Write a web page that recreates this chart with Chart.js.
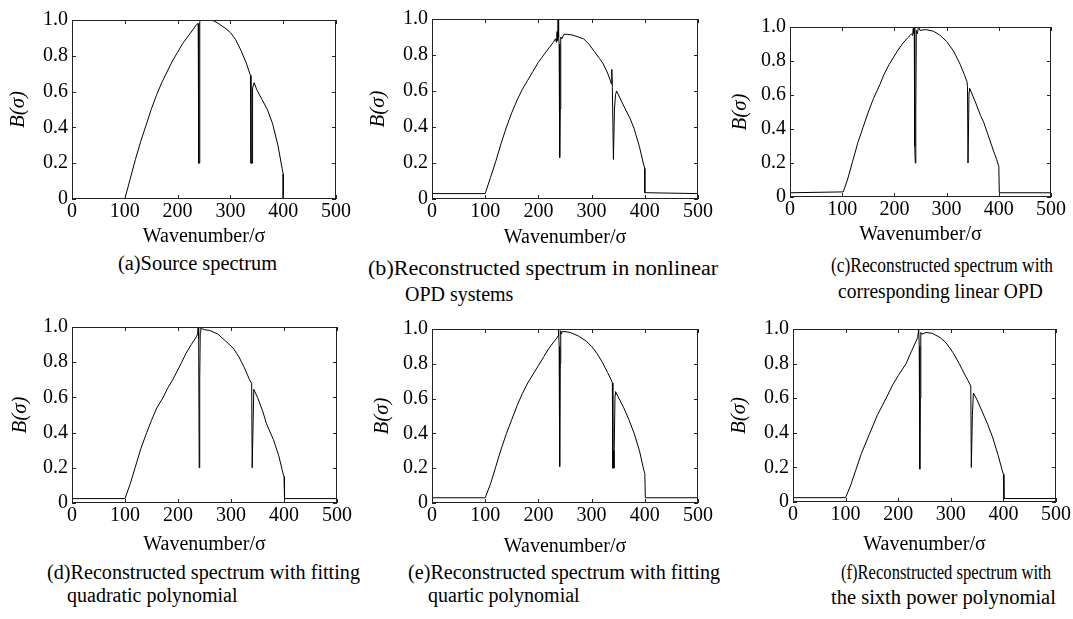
<!DOCTYPE html>
<html>
<head>
<meta charset="utf-8">
<script src="https://cdn.jsdelivr.net/npm/chart.js@4.4.1/dist/chart.umd.min.js"></script>
<style>
  html, body { margin: 0; padding: 0; background: #fff; }
  body { width: 1073px; height: 619px; position: relative; overflow: hidden;
         font-family: 'Liberation Serif', 'Times New Roman', serif; }
  canvas { position: absolute; }
  .cap { position: absolute; font-size: 20px; line-height: 24px; white-space: nowrap;
         color: #000; transform-origin: 0 50%; }
</style>
</head>
<body>
<script>
// tick values shared by all six panels
const xTicks = [0, 100, 200, 300, 400, 500];
const yTicks = [0, 0.2, 0.4, 0.6, 0.8, 1.0];

// (a) source spectrum
const sigmaA = [0, 100, 110, 120, 130, 140, 150, 160, 170, 180, 190, 200, 210, 220, 230, 236, 239, 240, 241, 242,
  244, 255, 265, 275, 290, 300, 310, 320, 330, 338, 339, 341, 342, 345, 350, 360, 370, 380, 390, 398, 400, 400, 500];
const specA = [0, 0, 0.11, 0.22, 0.32, 0.41, 0.5, 0.58, 0.65, 0.71, 0.77, 0.82, 0.87, 0.91, 0.95, 0.975, 0.98, 0.2, 0.2, 0.99,
  1.0, 1.0, 1.0, 0.985, 0.955, 0.93, 0.89, 0.83, 0.76, 0.69, 0.2, 0.2, 0.62, 0.65, 0.61, 0.555, 0.5, 0.42, 0.3, 0.17, 0.14, 0, 0];

// (b) nonlinear OPD
const sigmaB = [0, 100, 110, 120, 130, 140, 150, 160, 170, 180, 190, 200, 210, 220, 228, 232, 234, 235, 236, 237,
  238, 239, 240, 241, 242, 244, 248, 255, 265, 275, 285, 295, 305, 315, 322, 330, 335, 337, 338, 339,
  341, 343, 345, 347, 355, 365, 372, 380, 390, 397, 400, 400, 500];
const specB = [0.03, 0.03, 0.12, 0.21, 0.31, 0.4, 0.48, 0.55, 0.61, 0.66, 0.71, 0.76, 0.8, 0.84, 0.87, 0.89, 0.87, 0.93, 0.88, 1.0,
  0.9, 0.86, 0.23, 0.5, 0.9, 0.89, 0.915, 0.915, 0.91, 0.9, 0.89, 0.86, 0.82, 0.78, 0.75, 0.7, 0.66, 0.64, 0.72, 0.62,
  0.22, 0.5, 0.58, 0.6, 0.55, 0.49, 0.45, 0.39, 0.29, 0.2, 0.17, 0.035, 0.03];

// (c) corresponding linear OPD
const sigmaC = [0, 102, 110, 120, 130, 140, 150, 160, 172, 180, 190, 205, 215, 225, 230, 233, 235, 236, 237, 238,
  239, 240, 241, 242, 244, 246, 249, 260, 275, 288, 300, 313, 326, 334, 339, 340, 341, 342, 343, 344,
  355, 365, 371, 380, 390, 396, 400, 401, 500];
const specC = [0.025, 0.03, 0.1, 0.21, 0.32, 0.41, 0.5, 0.58, 0.66, 0.72, 0.78, 0.855, 0.9, 0.935, 0.95, 0.96, 0.95, 0.99, 0.96, 1.0,
  0.3, 0.2, 0.5, 0.98, 0.96, 1.0, 0.98, 0.985, 0.975, 0.95, 0.915, 0.86, 0.78, 0.72, 0.68, 0.65, 0.2, 0.2, 0.62, 0.64,
  0.56, 0.48, 0.44, 0.36, 0.27, 0.22, 0.18, 0.025, 0.025];

// (d) quadratic fit
const sigmaD = [0, 100, 110, 119, 130, 141, 150, 160, 172, 180, 190, 207, 215, 225, 235, 237, 238, 239, 240, 241,
  242, 243, 245, 250, 260, 275, 290, 304, 315, 325, 335, 339, 340, 341, 343, 350, 360, 367, 380, 390,
  398, 400, 401, 500];
const specD = [0.025, 0.025, 0.11, 0.2, 0.31, 0.4, 0.47, 0.54, 0.6, 0.65, 0.7, 0.8, 0.85, 0.9, 0.946, 0.96, 1.0, 0.93, 0.2, 0.7,
  0.97, 1.0, 0.99, 0.985, 0.98, 0.96, 0.92, 0.88, 0.83, 0.77, 0.7, 0.68, 0.2, 0.2, 0.646, 0.6, 0.52, 0.45, 0.36, 0.27,
  0.17, 0.15, 0.025, 0.025];

// (e) quartic fit
const sigmaE = [0, 100, 110, 120, 130, 140, 150, 160, 170, 180, 190, 200, 210, 220, 230, 235, 237, 238, 239, 240,
  241, 242, 243, 245, 250, 260, 275, 290, 300, 310, 320, 330, 338, 339, 340, 341, 342, 344, 345, 350,
  360, 370, 380, 390, 398, 400, 401, 500];
const specE = [0.03, 0.03, 0.11, 0.21, 0.31, 0.4, 0.48, 0.56, 0.63, 0.69, 0.74, 0.79, 0.84, 0.89, 0.93, 0.95, 0.96, 1.0, 0.9, 0.21,
  0.8, 0.99, 0.97, 0.985, 0.985, 0.98, 0.96, 0.93, 0.9, 0.86, 0.81, 0.75, 0.7, 0.69, 0.2, 0.3, 0.2, 0.62, 0.64, 0.61,
  0.55, 0.48, 0.4, 0.3, 0.19, 0.17, 0.03, 0.03];

// (f) sixth power fit
const sigmaF = [0, 100, 110, 120, 130, 145, 160, 177, 190, 200, 215, 225, 234, 237, 239, 240, 241, 242, 243, 245,
  253, 265, 280, 291, 305, 316, 326, 333, 338, 339, 340, 341, 343, 350, 360, 370, 380, 390, 398, 400,
  401, 500];
const specF = [0.025, 0.025, 0.1, 0.19, 0.28, 0.39, 0.5, 0.6, 0.68, 0.73, 0.8, 0.87, 0.93, 0.95, 1.0, 0.9, 0.19, 0.6, 0.98, 0.97,
  0.98, 0.975, 0.95, 0.92, 0.86, 0.8, 0.74, 0.7, 0.67, 0.2, 0.2, 0.5, 0.63, 0.59, 0.52, 0.45, 0.37, 0.27, 0.18, 0.16,
  0.02, 0.02];

const captionA = ['(a)Source spectrum'];
const captionB = ['(b)Reconstructed spectrum in nonlinear', 'OPD systems'];
const captionC = ['(c)Reconstructed spectrum with', 'corresponding linear OPD'];
const captionD = ['(d)Reconstructed spectrum with fitting', 'quadratic polynomial'];
const captionE = ['(e)Reconstructed spectrum with fitting', 'quartic polynomial'];
const captionF = ['(f)Reconstructed spectrum with', 'the sixth power polynomial'];

// layout: plot box [left, top, right, bottom], y-title distance, x-title centre, caption lines [x, y, width]
const panels = [
  { sigma: sigmaA, spec: specA, cap: captionA, plot: [72, 18, 336, 199], yGap: 54, xTitleY: 237,
    capPos: [[118, 263, 159]] },
  { sigma: sigmaB, spec: specB, cap: captionB, plot: [432, 17, 698, 199], yGap: 54, xTitleY: 238,
    capPos: [[368, 268, 350], [405, 294, 0]] },
  { sigma: sigmaC, spec: specC, cap: captionC, plot: [790, 25, 1051, 197], yGap: 50, xTitleY: 235,
    capPos: [[831, 265, 222], [838, 291, 205]] },
  { sigma: sigmaD, spec: specD, cap: captionD, plot: [72, 325, 337, 503], yGap: 52, xTitleY: 545,
    capPos: [[47, 572, 313], [67, 595, 0]] },
  { sigma: sigmaE, spec: specE, cap: captionE, plot: [432, 327, 698, 503], yGap: 50, xTitleY: 547,
    capPos: [[408, 572, 312], [428, 595, 0]] },
  { sigma: sigmaF, spec: specF, cap: captionF, plot: [793, 327, 1056, 502], yGap: 54, xTitleY: 545,
    capPos: [[841, 572, 210], [831, 597, 225]] }
];

const SERIF = "'Liberation Serif', 'Times New Roman', serif";
const PAD_TOP = 14, PAD_RIGHT = 18;

// MATLAB style box with inward ticks on all four sides
const boxTicks = {
  id: 'boxTicks',
  afterDatasetsDraw(chart) {
    const { ctx, chartArea: a, scales: { x, y } } = chart;
    ctx.save();
    ctx.strokeStyle = '#222';
    ctx.lineWidth = 1;
    ctx.strokeRect(a.left + 0.5, a.top + 0.5, a.right - a.left - 1, a.bottom - a.top - 1);
    ctx.beginPath();
    xTicks.forEach(v => {
      const px = Math.round(x.getPixelForValue(v)) + 0.5;
      ctx.moveTo(px, a.bottom); ctx.lineTo(px, a.bottom - 4);
      ctx.moveTo(px, a.top); ctx.lineTo(px, a.top + 4);
    });
    yTicks.forEach(v => {
      const py = Math.round(y.getPixelForValue(v)) + 0.5;
      ctx.moveTo(a.left, py); ctx.lineTo(a.left + 4, py);
      ctx.moveTo(a.right, py); ctx.lineTo(a.right - 4, py);
    });
    ctx.stroke();
    ctx.restore();
  }
};

panels.forEach(p => {
  const [l, t, r, b] = p.plot;
  const yWidth = p.yGap + 12;
  const xHeight = p.xTitleY + 12 - b;
  const canvas = document.createElement('canvas');
  canvas.width = (r - l) + yWidth + PAD_RIGHT;
  canvas.height = (b - t) + PAD_TOP + xHeight;
  canvas.style.left = (l - yWidth) + 'px';
  canvas.style.top = (t - PAD_TOP) + 'px';
  document.body.appendChild(canvas);

  new Chart(canvas.getContext('2d'), {
    type: 'line',
    data: {
      datasets: [{
        data: p.sigma.map((s, i) => ({ x: s, y: p.spec[i] })),
        borderColor: '#000',
        borderWidth: 1,
        pointRadius: 0,
        tension: 0,
        fill: false
      }]
    },
    options: {
      responsive: false,
      animation: false,
      events: [],
      layout: { padding: { top: PAD_TOP, right: PAD_RIGHT, left: 0, bottom: 0 } },
      plugins: { legend: { display: false }, tooltip: { enabled: false } },
      scales: {
        x: {
          type: 'linear', min: 0, max: 500,
          afterBuildTicks: s => { s.ticks = xTicks.map(v => ({ value: v })); },
          afterFit: s => { s.height = xHeight; },
          grid: { display: false, drawTicks: false },
          border: { display: false },
          ticks: { color: '#000', font: { family: SERIF, size: 20 }, padding: 1, maxRotation: 0, autoSkip: false },
          title: { display: true, text: 'Wavenumber/σ', color: '#000', font: { family: SERIF, size: 20 }, padding: 0 }
        },
        y: {
          type: 'linear', min: 0, max: 1,
          afterBuildTicks: s => { s.ticks = yTicks.map(v => ({ value: v })); },
          afterFit: s => { s.width = yWidth; },
          grid: { display: false, drawTicks: false },
          border: { display: false },
          ticks: {
            color: '#000', font: { family: SERIF, size: 20 }, padding: 4,
            callback: v => (v === 0 ? '0' : v.toFixed(1))
          },
          title: { display: true, text: 'B(σ)', color: '#000', font: { family: SERIF, size: 21, style: 'italic' }, padding: 0 }
        }
      }
    },
    plugins: [boxTicks]
  });

  // captions under each panel
  p.cap.forEach((text, i) => {
    const [cx, cy, w] = p.capPos[i];
    const d = document.createElement('div');
    d.className = 'cap';
    d.textContent = text;
    d.style.left = cx + 'px';
    d.style.top = (cy - 12) + 'px';
    document.body.appendChild(d);
    if (w) {
      const natural = d.getBoundingClientRect().width;
      d.style.transform = 'scaleX(' + (w / natural).toFixed(3) + ')';
    }
  });
});
</script>
</body>
</html>
